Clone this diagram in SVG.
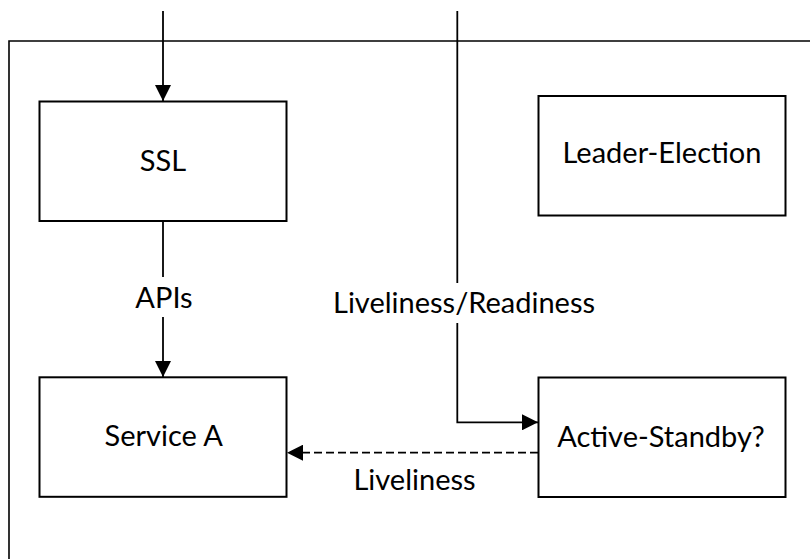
<svg xmlns="http://www.w3.org/2000/svg" width="810" height="559" viewBox="0 0 810 559">
  <style>
    .box { fill: #ffffff; stroke: #000000; stroke-width: 2; }
    .frame { fill: none; stroke: #000000; stroke-width: 1.6; }
    .link { fill: none; stroke: #000000; stroke-width: 1.8; }
    .dash { stroke-dasharray: 8 4; }
    .label { font-family: Lato, "Liberation Sans", sans-serif; font-size: 29px; fill: #000000; text-anchor: middle; }
  </style>
  <defs>
    <marker id="arrow" viewBox="0 0 16 16" refX="16" refY="8" markerWidth="16" markerHeight="16" markerUnits="userSpaceOnUse" orient="auto">
      <path d="M0,0 L16,8 L0,16 Z" fill="#000000"/>
    </marker>
  </defs>

  <rect width="810" height="559" fill="#ffffff"/>

  <!-- enclosing frame, open to the right and bottom -->
  <g id="frame">
    <path class="frame" d="M9,559 L9,41 L810,41"/>
  </g>

  <!-- connectors -->
  <g id="connectors">
    <line class="link" x1="163" y1="11" x2="163" y2="101" marker-end="url(#arrow)"/>
    <line class="link" x1="163" y1="221" x2="163" y2="277"/>
    <line class="link" x1="163" y1="317" x2="163" y2="377" marker-end="url(#arrow)"/>
    <text class="label" x="164" y="308">APIs</text>
    <line class="link" x1="457.3" y1="11" x2="457.3" y2="283"/>
    <path class="link" d="M457.3,323 L457.3,422.3 L538,422.3" marker-end="url(#arrow)"/>
    <text class="label" x="464" y="312.7">Liveliness/Readiness</text>
    <line class="link dash" x1="538" y1="452.7" x2="287" y2="452.7" marker-end="url(#arrow)"/>
    <text class="label" x="414.5" y="490">Liveliness</text>
  </g>

  <g id="ssl">
    <rect class="box" x="39.5" y="101.5" width="247" height="119.5"/>
    <text class="label" x="163" y="171">SSL</text>
  </g>

  <g id="leader-election">
    <rect class="box" x="538.5" y="96" width="247" height="119.5"/>
    <text class="label" x="662" y="163">Leader-Election</text>
  </g>

  <g id="service-a">
    <rect class="box" x="39.5" y="377.3" width="247" height="119.5"/>
    <text class="label" x="163.7" y="446">Service A</text>
  </g>

  <g id="active-standby">
    <rect class="box" x="538.5" y="377.5" width="247" height="119.5"/>
    <text class="label" x="661" y="446.5">Active-Standby?</text>
  </g>
</svg>
